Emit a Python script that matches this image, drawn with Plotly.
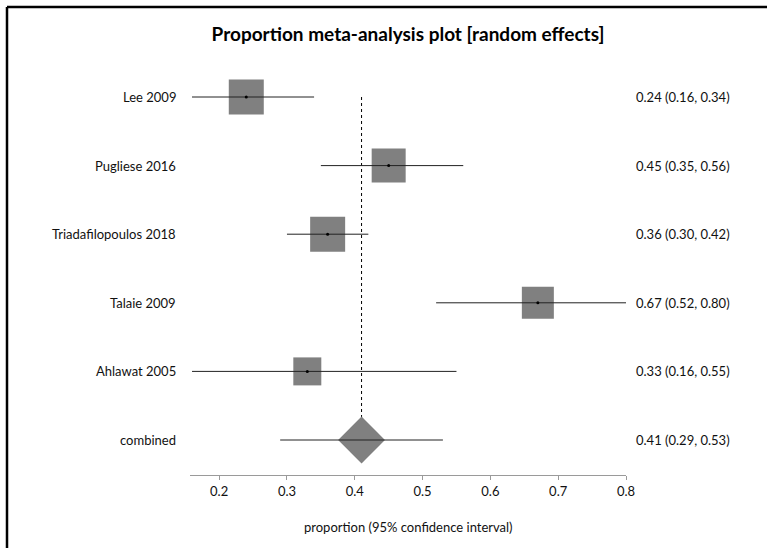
import plotly.graph_objects as go

# Study-level proportions with 95% confidence intervals
studies = ["Lee 2009", "Pugliese 2016", "Triadafilopoulos 2018", "Talaie 2009", "Ahlawat 2005"]
estimate = [0.24, 0.45, 0.36, 0.67, 0.33]
ci_low = [0.16, 0.35, 0.30, 0.52, 0.16]
ci_high = [0.34, 0.56, 0.42, 0.80, 0.55]

# Pooled random-effects estimate
pooled_label = "combined"
pooled_est = 0.41
pooled_low = 0.29
pooled_high = 0.53

# Box side lengths (px), proportional to study weight
box_px = [35, 34, 35, 32, 28]

x_ticks = [0.2, 0.3, 0.4, 0.5, 0.6, 0.7, 0.8]

FONT = "Lato, 'Open Sans', sans-serif"
BOX = "#808080"

rows = list(range(len(studies)))
pooled_row = len(studies)

fig = go.Figure()

# Reference line through the pooled estimate
fig.add_trace(go.Scatter(
    x=[pooled_est, pooled_est], y=[0, pooled_row],
    mode="lines", line=dict(color="black", width=1, dash="dot"),
    hoverinfo="skip", showlegend=False))

# Weight boxes
fig.add_trace(go.Scatter(
    x=estimate, y=rows, mode="markers",
    marker=dict(symbol="square", size=box_px, color=BOX, opacity=1, line=dict(width=0)),
    hoverinfo="skip", showlegend=False))

# Pooled diamond
fig.add_trace(go.Scatter(
    x=[pooled_est], y=[pooled_row], mode="markers",
    marker=dict(symbol="diamond", size=36, color=BOX, opacity=1, line=dict(width=0)),
    hoverinfo="skip", showlegend=False))

# Confidence interval whiskers
for r, lo, hi in zip(rows + [pooled_row], ci_low + [pooled_low], ci_high + [pooled_high]):
    fig.add_trace(go.Scatter(
        x=[lo, hi], y=[r, r], mode="lines",
        line=dict(color="#222222", width=1),
        hoverinfo="skip", showlegend=False))

# Point estimate dots
fig.add_trace(go.Scatter(
    x=estimate, y=rows, mode="markers",
    marker=dict(symbol="circle", size=3, color="black", opacity=1),
    hoverinfo="skip", showlegend=False))

annotations = []
labels = studies + [pooled_label]
values = [f"{e:.2f} ({l:.2f}, {h:.2f})" for e, l, h in
          zip(estimate + [pooled_est], ci_low + [pooled_low], ci_high + [pooled_high])]
for r, name, val in zip(rows + [pooled_row], labels, values):
    annotations.append(dict(
        x=0, xref="paper", y=r, yref="y", text=name, showarrow=False,
        xanchor="right", yanchor="middle", xshift=-12,
        font=dict(family=FONT, size=13, color="#111111")))
    annotations.append(dict(
        x=1, xref="paper", y=r, yref="y", text=val, showarrow=False,
        xanchor="left", yanchor="middle", xshift=8,
        font=dict(family=FONT, size=13, color="#111111")))

annotations.append(dict(
    x=0.5, xref="paper", y=0, yref="paper", yshift=-52,
    text="proportion (95% confidence interval)", showarrow=False,
    xanchor="center", yanchor="middle",
    font=dict(family=FONT, size=13, color="#111111")))

# Left and top edges of the outer frame
L, R, T, B = 190, 141, 60, 73
W, H = 767, 548
pw, ph = W - L - R, H - T - B
frame_x = (7 - L) / pw
frame_y = (H - B - 7) / ph
shapes = [
    dict(type="line", xref="paper", yref="paper", x0=frame_x, x1=frame_x,
         y0=frame_y, y1=-B / ph - 0.05, line=dict(color="black", width=2.5)),
    dict(type="line", xref="paper", yref="paper", x0=frame_x, x1=(W - L) / pw + 0.05,
         y0=frame_y, y1=frame_y, line=dict(color="black", width=2.5)),
]

fig.update_layout(
    width=W, height=H,
    margin=dict(l=L, r=R, t=T, b=B),
    paper_bgcolor="white", plot_bgcolor="white",
    title=dict(text="<b>Proportion meta-analysis plot [random effects]</b>",
               x=0.5, xref="paper", y=1 - 34 / H, yref="container",
               xanchor="center", yanchor="middle",
               font=dict(family=FONT, size=19, color="black")),
    annotations=annotations,
    shapes=shapes,
    xaxis=dict(range=[0.157, 0.8], tickvals=x_ticks,
               ticktext=[f"{t:.1f}" for t in x_ticks],
               showgrid=False, zeroline=False,
               showline=True, linecolor="#9a9a9a", linewidth=1,
               ticks="outside", ticklen=4, tickcolor="#9a9a9a",
               tickfont=dict(family=FONT, size=13, color="#111111")),
    yaxis=dict(range=[(475 - 97) / 68.6, (60 - 97) / 68.6],
               showgrid=False, zeroline=False, showline=False,
               showticklabels=False, ticks=""),
)

fig.write_html("out.html")
